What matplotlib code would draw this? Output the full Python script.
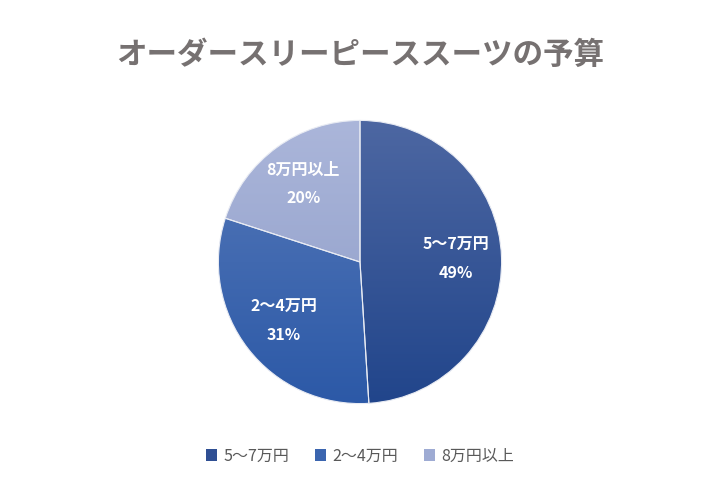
import numpy as np
import matplotlib
matplotlib.use("Agg")
import matplotlib.pyplot as plt
from matplotlib.colors import LinearSegmentedColormap
from matplotlib.patches import Patch

plt.rcParams['font.family'] = ['Noto Sans CJK JP', 'DejaVu Sans']

labels = ["5〜7万円", "2〜4万円", "8万円以上"]
shares = [49, 31, 20]
# (top colour, bottom colour) for the vertical gradient of each slice
grad_colors = [("#4d67a2", "#21458b"), ("#5679b9", "#2c59a7"), ("#abb6da", "#8c9bc7")]
legend_colors = ["#2f4f93", "#3b65af", "#9eabd3"]

fig = plt.figure(figsize=(7.2, 5), dpi=100)
ax = fig.add_axes([0.301, 0.19, 0.398, 0.572])

wedges, _ = ax.pie(shares, startangle=90, counterclock=False, radius=1,
                   wedgeprops=dict(edgecolor="#e8ebf3", linewidth=0.8))

grad = np.linspace(1, 0, 256).reshape(-1, 1)
for w, (top, bot) in zip(wedges, grad_colors):
    w.set_facecolor("none")
    cmap = LinearSegmentedColormap.from_list("g", [bot, top])
    im = ax.imshow(grad, extent=[-1, 1, -1, 1], origin="upper", cmap=cmap,
                   aspect="auto", zorder=0)
    im.set_clip_path(w)

for w, lab, val in zip(wedges, labels, shares):
    mid = np.deg2rad((w.theta1 + w.theta2) / 2)
    x, y = 0.68 * np.cos(mid), 0.68 * np.sin(mid)
    ax.text(x, y + 0.1, lab, ha="center", va="center", color="white",
            fontsize=11.5, fontweight="bold")
    ax.text(x, y - 0.1, f"{val}%", ha="center", va="center", color="white",
            fontsize=11.5, fontweight="bold")

ax.set_xlim(-1.01, 1.01)
ax.set_ylim(-1.01, 1.01)
ax.set_aspect("equal")
ax.axis("off")

fig.text(0.5, 0.89, "オーダースリーピーススーツの予算", ha="center", va="center",
         fontsize=22, fontweight="bold", color="#767171")

handles = [Patch(facecolor=c, edgecolor="none") for c in legend_colors]
fig.legend(handles, labels, loc="center", bbox_to_anchor=(0.5, 0.088), ncol=3,
           frameon=False, fontsize=11.5, labelcolor="#595959",
           handlelength=0.7, handleheight=0.7, handletextpad=0.4, columnspacing=1.6)

fig.savefig("out.png", dpi=100, facecolor="white")
